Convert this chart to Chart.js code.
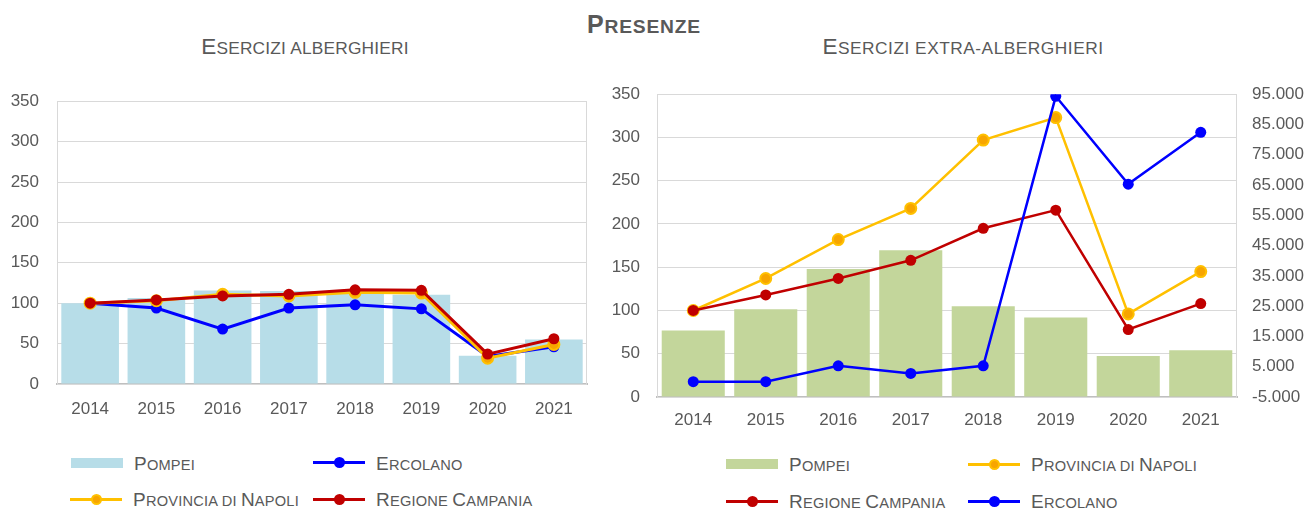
<!DOCTYPE html>
<html>
<head>
<meta charset="utf-8">
<script src="https://cdn.jsdelivr.net/npm/chart.js@4"></script>
<style>
  html, body { margin: 0; padding: 0; background: #ffffff; }
  body { width: 1309px; height: 508px; position: relative; overflow: hidden;
         font-family: "Liberation Sans", Arial, sans-serif; color: #595959; }
  .txt { position: absolute; line-height: 1; white-space: nowrap; }
  .ctr { text-align: center; }
  .cw { position: absolute; }
  .sym { position: absolute; }
</style>
</head>
<body>
<div id="title" class="txt ctr" style="left:444px; width:400px; top:11.5px; font-weight:bold;"></div>
<div id="sub1" class="txt ctr" style="left:105px; width:400px; top:36px;"></div>
<div id="sub2" class="txt ctr" style="left:763px; width:400px; top:36px;"></div>

<div class="cw" style="left:0px; top:73px; width:600px; height:357px;"><canvas id="c1"></canvas></div>
<div class="cw" style="left:600px; top:67px; width:709px; height:373px;"><canvas id="c2"></canvas></div>

<div id="legend"></div>

<script>
// ---------- DATA ----------
const years = ['2014', '2015', '2016', '2017', '2018', '2019', '2020', '2021'];

// Esercizi alberghieri (indice, 2014 = 100)
const hotelPompei    = [100, 106.5, 115.6, 115, 112, 110.6, 35, 55];
const hotelErcolano  = [100, 94, 68, 94, 98, 93, 34, 46];
const hotelProvincia = [100, 103, 111, 109, 113.5, 112.5, 32, 49];
const hotelRegione   = [100, 104, 109, 111, 116.5, 116, 37, 56];

// Esercizi extra-alberghieri
const extraPompei    = [77, 101.5, 148, 169.5, 105, 92, 47.5, 54];
const extraProvincia = [100, 137, 182, 218, 297, 323, 96, 145];
const extraRegione   = [100, 118, 137, 158, 195, 216, 78, 108];
const extraErcolano  = [50, 50, 5300, 2800, 5300, 94300, 65300, 82400]; // asse secondario

const leftTicks  = { min: 0, max: 350, step: 50 };
const rightTicks = { min: -5000, max: 95000, step: 10000 };

const titleText = 'Presenze';
const sub1Text = 'Esercizi alberghieri';
const sub2Text = 'Esercizi extra-alberghieri';
const nPompei = 'Pompei', nErcolano = 'Ercolano', nProvincia = 'Provincia di Napoli', nRegione = 'Regione Campania';

// ---------- STYLES ----------
const C_BLUE = '#0000ff', C_YELLOW = '#ffc000', C_YELLOW_PT = '#f7a500', C_RED = '#c00000';
const C_BAR1 = '#b7dde8', C_BAR2 = '#c3d69b';
const GRID = '#d9d9d9', AXIS = '#bfbfbf', TXT = '#595959';
const FONT = '"Liberation Sans", Arial, sans-serif';

// small caps helper (uppercase letters full size, others as reduced capitals)
function smallCaps(el, text, size, ratio) {
  el.style.fontSize = size + 'px';
  let i = 0;
  while (i < text.length) {
    const up = /[A-ZÀ-Ý]/.test(text[i]);
    let j = i + 1;
    while (j < text.length && (/[A-ZÀ-Ý]/.test(text[j])) === up) j++;
    const sp = document.createElement('span');
    sp.textContent = text.slice(i, j).toUpperCase();
    sp.style.fontSize = (up ? size : size * ratio) + 'px';
    el.appendChild(sp);
    i = j;
  }
}
smallCaps(document.getElementById('title'), titleText, 25, 0.77);
document.getElementById('title').style.letterSpacing = '0.8px';
smallCaps(document.getElementById('sub1'), sub1Text, 22.5, 0.77);
smallCaps(document.getElementById('sub2'), sub2Text, 22.5, 0.77);
document.getElementById('sub1').style.letterSpacing = '0.2px';
document.getElementById('sub2').style.letterSpacing = '0.5px';

// HTML legend
const legendItems = [
  // left chart
  { name: nPompei,    type: 'box',  color: C_BAR1,   sx: 71,  cy: 462.7 },
  { name: nErcolano,  type: 'line', color: C_BLUE,   sx: 313, cy: 462.7 },
  { name: nProvincia, type: 'line', color: C_YELLOW, pt: C_YELLOW_PT, sx: 70,  cy: 499.3 },
  { name: nRegione,   type: 'line', color: C_RED,    sx: 313, cy: 499.3 },
  // right chart
  { name: nPompei,    type: 'box',  color: C_BAR2,   sx: 726, cy: 464.3 },
  { name: nProvincia, type: 'line', color: C_YELLOW, pt: C_YELLOW_PT, sx: 968, cy: 464.3 },
  { name: nRegione,   type: 'line', color: C_RED,    sx: 726, cy: 501 },
  { name: nErcolano,  type: 'line', color: C_BLUE,   sx: 968, cy: 501 }
];
const lg = document.getElementById('legend');
legendItems.forEach(it => {
  const w = 52;
  if (it.type === 'box') {
    const b = document.createElement('div');
    b.className = 'sym';
    b.style.cssText = `left:${it.sx}px; top:${it.cy - 5}px; width:${w}px; height:10px; background:${it.color};`;
    lg.appendChild(b);
  } else {
    const l = document.createElement('div');
    l.className = 'sym';
    l.style.cssText = `left:${it.sx}px; top:${it.cy - 1.5}px; width:${w}px; height:3px; background:${it.color};`;
    lg.appendChild(l);
    const d = document.createElement('div');
    d.className = 'sym';
    const fill = it.pt || it.color;
    d.style.cssText = `left:${it.sx + w / 2 - 5.5}px; top:${it.cy - 5.5}px; width:11px; height:11px; border-radius:50%; box-sizing:border-box; background:${fill}; border:${it.pt ? 2 : 0}px solid ${it.color};`;
    lg.appendChild(d);
  }
  const t = document.createElement('div');
  t.className = 'txt';
  const size = 19;
  t.style.left = (it.sx + w + 11) + 'px';
  t.style.top = (it.cy + 7 - 0.8465 * size) + 'px';
  smallCaps(t, it.name, size, 0.77);
  t.style.letterSpacing = '0.2px';
  lg.appendChild(t);
});

// ---------- CHARTS ----------
Chart.defaults.font.family = FONT;
Chart.defaults.color = TXT;

const borderPlugin = {
  id: 'plotBorder',
  beforeDatasetsDraw(chart) {
    const { ctx, chartArea: a } = chart;
    ctx.save();
    ctx.strokeStyle = GRID;
    ctx.lineWidth = 1;
    ctx.strokeRect(Math.round(a.left) + 0.5, Math.round(a.top) + 0.5, Math.round(a.right - a.left) - 1, Math.round(a.bottom - a.top));
    ctx.restore();
  }
};

function lineDS(label, data, color, ptFill, order, width, yAxisID) {
  return {
    type: 'line', label, data, order, yAxisID: yAxisID || 'y',
    borderColor: color, backgroundColor: ptFill || color,
    borderWidth: width, pointRadius: 5.5, pointHoverRadius: 5.5,
    pointBackgroundColor: ptFill || color, pointBorderColor: color,
    pointBorderWidth: ptFill ? 2 : 0, tension: 0, fill: false
  };
}

function xScale(pad) {
  return {
    offset: true,
    grid: { display: false, drawTicks: false },
    border: { display: true, color: AXIS, width: 2 },
    ticks: { padding: pad, font: { size: 17 }, color: TXT },
  };
}
function yScale(pad, axisWidth) {
  return {
    position: 'left',
    min: leftTicks.min, max: leftTicks.max,
    grid: { color: GRID, lineWidth: 1, drawTicks: false },
    border: { display: false },
    ticks: { stepSize: leftTicks.step, padding: pad, font: { size: 17 }, color: TXT },
    afterFit: s => { s.width = axisWidth; }
  };
}

new Chart(document.getElementById('c1'), {
  data: {
    labels: years,
    datasets: [
      { type: 'bar', label: nPompei, data: hotelPompei, backgroundColor: C_BAR1, order: 4,
        categoryPercentage: 1, barPercentage: 0.87 },
      lineDS(nErcolano, hotelErcolano, C_BLUE, null, 3, 3),
      lineDS(nProvincia, hotelProvincia, C_YELLOW, C_YELLOW_PT, 2, 3),
      lineDS(nRegione, hotelRegione, C_RED, null, 1, 3)
    ]
  },
  options: {
    responsive: true, maintainAspectRatio: false, animation: false,
    layout: { padding: { top: 13, right: 13, left: 0, bottom: 0 } },
    plugins: { legend: { display: false }, tooltip: { enabled: false } },
    scales: {
      x: Object.assign(xScale(15), { afterFit: s => { s.height = 46; } }),
      y: yScale(18, 57)
    }
  },
  plugins: [borderPlugin]
});

function fmtIt(v) {
  const s = Math.abs(v).toFixed(0).replace(/\B(?=(\d{3})+(?!\d))/g, '.');
  return (v < 0 ? '-' : '') + s;
}

new Chart(document.getElementById('c2'), {
  data: {
    labels: years,
    datasets: [
      { type: 'bar', label: nPompei, data: extraPompei, backgroundColor: C_BAR2, order: 4,
        categoryPercentage: 1, barPercentage: 0.87 },
      lineDS(nProvincia, extraProvincia, C_YELLOW, C_YELLOW_PT, 3, 2.5),
      lineDS(nRegione, extraRegione, C_RED, null, 2, 2.5),
      lineDS(nErcolano, extraErcolano, C_BLUE, null, 1, 2.5, 'y2')
    ]
  },
  options: {
    responsive: true, maintainAspectRatio: false, animation: false,
    layout: { padding: { top: 14, right: 0, left: 0, bottom: 0 } },
    plugins: { legend: { display: false }, tooltip: { enabled: false } },
    scales: {
      x: Object.assign(xScale(13), { afterFit: s => { s.height = 43; } }),
      y: yScale(17, 57),
      y2: {
        position: 'right',
        min: rightTicks.min, max: rightTicks.max,
        grid: { display: false, drawTicks: false },
        border: { display: false },
        ticks: { stepSize: rightTicks.step, padding: 15, font: { size: 17 }, color: TXT,
                 callback: v => fmtIt(v) },
        afterFit: s => { s.width = 72; }
      }
    }
  },
  plugins: [borderPlugin]
});
</script>
</body>
</html>
